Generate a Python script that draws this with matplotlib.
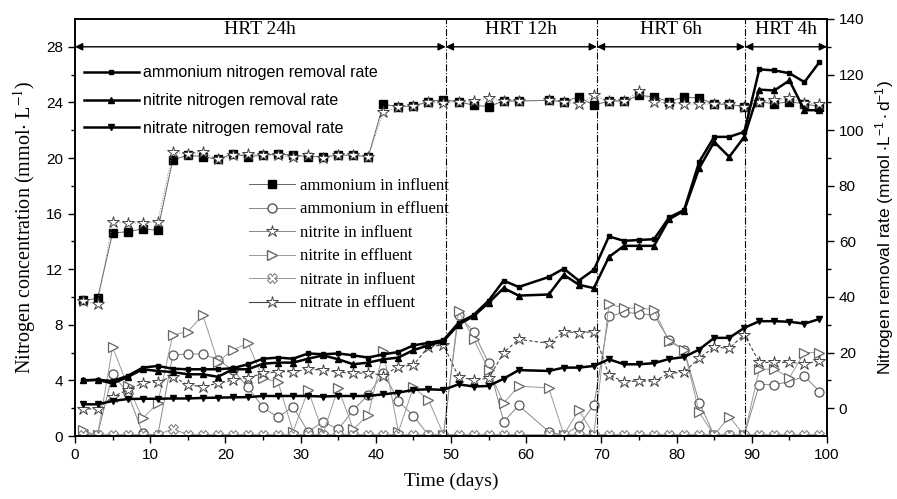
import numpy as np
import matplotlib
matplotlib.use("Agg")
import matplotlib.pyplot as plt
from matplotlib.lines import Line2D

nan = np.nan
days = list(range(1, 100, 2))

# concentrations (mmol/L), left axis
amm_in = [9.75, 9.9, 14.6, 14.7, 14.9, 14.8,
          19.86, 20.2, 20.1, 19.9, 20.3, 20.1, 20.2, 20.3, 20.2, 20.1, 20.1, 20.2, 20.2, 20.1,
          23.86, 23.7, 23.75, 24.05, 24.2,
          24.05, 23.8, 23.7, 24.1, 24.1, nan, 24.15, 24.05, 24.4, 23.8,
          24.1, 24.1, 24.5, 24.4, 24.05, 24.4, 24.3, 23.9, 23.85, 23.7,
          24.05, 23.9, 24.05, 23.9, 23.7]
nit_in = [9.7, 9.5, 15.4, 15.3, 15.35, 15.4,
          20.4, 20.3, 20.4, 19.9, 20.2, 20.3, 20.2, 20.2, 20.1, 20.2, 20.0, 20.2, 20.2, 20.1,
          23.3, 23.65, 23.75, 24.0, 23.95,
          24.05, 24.1, 24.3, 24.1, 24.1, nan, 24.15, 24.0, 23.9, 24.5,
          24.1, 24.1, 24.8, 24.05, 23.9, 23.9, 23.85, 23.9, 23.85, 23.7,
          24.0, 24.2, 24.3, 23.95, 23.9]
amm_eff = [0.2, 0.1, 4.46, 3.1, 0.2, 0.05, 5.83, 5.9, 5.9, 5.5, 4.75, 3.5,
           2.06, 1.34, 2.11, 0.31, 1.03, 0.48, 1.87, 2.95, 4.56, 2.52, 1.44, 0.07, 0.1,
           8.7, 7.5, 5.23, 1.03, 2.2, nan, 0.31, 0.05, 0.75, 2.23,
           8.6, 8.9, 8.8, 8.7, 6.9, 6.2, 2.4, 0.05, 0.05, 0.05,
           3.7, 3.7, 3.9, 4.3, 3.2]
nit_eff = [0.4, 0.05, 6.4, 3.6, 1.27, 2.35, 7.27, 7.5, 8.7, 5.35, 6.19, 6.67,
           4.15, 3.9, 0.3, 3.3, 0.2, 3.45, 0.5, 1.5, 6.1, 0.3, 3.5, 2.6, 0.1,
           9.0, 7.0, 4.75, 2.37, 3.6, nan, 3.45, 0.1, 1.85, 0.1,
           9.5, 9.2, 9.2, 9.1, 6.8, 6.2, 1.7, 0.05, 1.4, 0.05,
           4.8, 4.8, 4.2, 6.0, 6.0]
no3_in = [0.1] * 6 + [0.5] + [0.1] * 23 + [nan] + [0.1] * 19
no3_eff = [1.95, 1.95, 2.83, 3.31, 3.8, 3.9, 4.27, 3.67, 3.55, 3.79, 4.03, 4.2,
           4.5, 4.63, 4.63, 4.8, 4.75, 4.6, 4.5, 4.55, 4.35, 5.0, 5.1, 6.43, 6.55,
           4.27, 4.03, 4.15, 6.0, 6.95, nan, 6.67, 7.5, 7.43, 7.5,
           4.39, 3.9, 3.95, 3.95, 4.5, 4.6, 5.6, 6.4, 6.3, 7.3,
           5.3, 5.3, 5.3, 5.2, 5.4]

# removal rates (mmol/L/d), right axis
amm_rate = [10.0, 10.2, 9.8, 11.6, 14.6, 15.2, 14.2, 14.0, 14.0, 14.0, 14.4, 15.8,
            17.8, 18.2, 17.8, 19.7, 19.4, 19.7, 19.0, 18.2, 19.4, 20.2, 22.6, 23.5, 24.5,
            30.7, 33.5, 38.7, 45.9, 43.6, nan, 47.2, 50.2, 45.9, 49.8,
            61.8, 60.2, 60.5, 60.8, 68.6, 71.3, 88.6, 97.6, 97.6, 99.4,
            121.9, 121.5, 120.5, 117.3, 124.5]
nit_rate = [10.0, 10.2, 8.9, 11.2, 14.0, 13.4, 13.0, 12.2, 12.2, 11.3, 14.0, 14.0,
            16.0, 16.4, 16.4, 17.8, 19.0, 17.6, 15.8, 16.4, 17.6, 18.2, 20.9, 22.6, 24.1,
            30.1, 33.1, 37.9, 43.2, 40.5, nan, 40.9, 48.0, 44.4, 43.2,
            54.4, 58.4, 58.4, 58.4, 68.0, 71.0, 86.3, 95.8, 90.4, 97.6,
            114.6, 114.3, 117.9, 107.2, 107.2]
no3_rate = [1.4, 1.4, 2.6, 3.3, 3.4, 3.4, 3.5, 3.5, 3.7, 3.8, 3.9, 4.0,
            4.4, 4.4, 4.4, 4.4, 4.2, 4.4, 4.4, 4.4, 5.0, 5.6, 6.6, 6.8, 6.6,
            8.6, 7.8, 8.0, 10.6, 13.7, nan, 13.4, 14.6, 14.6, 15.2,
            17.6, 15.8, 15.8, 16.2, 17.7, 18.4, 21.1, 25.3, 25.3, 28.9,
            31.3, 31.3, 31.1, 30.4, 32.1]

hrt_bounds = [0, 49.3, 69.4, 89.1, 100]
hrt_labels = ["HRT 24h", "HRT 12h", "HRT 6h", "HRT 4h"]

serif = "Liberation Serif"
sans = "Liberation Sans"
plt.rcParams["font.family"] = sans
plt.rcParams["mathtext.fontset"] = "stix"


def valid(y):
    # skip missing samples so the line joins the neighbours
    x = np.array(days, dtype=float)
    y = np.array(y, dtype=float)
    ok = ~np.isnan(y)
    return x[ok], y[ok]


fig = plt.figure(figsize=(8.97, 4.99), dpi=100)
ax = fig.add_axes([75 / 897, 1 - 436 / 499, 752 / 897, 417 / 499])
ax2 = ax.twinx()

# concentration series
ax.plot(*valid(amm_in), color="#666666", lw=0.7, marker="s", ms=5.5, mfc="black", mec="black", zorder=4)
ax.plot(*valid(amm_eff), color="#888888", lw=0.7, marker="o", ms=6.5, mfc="white", mec="#555555", mew=0.9)
ax.plot(*valid(nit_in), color="#888888", lw=0.7, ls=":", marker="*", ms=9, mfc="white", mec="#444444", mew=0.7, zorder=4)
ax.plot(*valid(nit_eff), color="#999999", lw=0.7, marker=">", ms=7, mfc="white", mec="#666666", mew=0.9)
ax.plot(*valid(no3_in), color="#999999", lw=0.7, marker="X", ms=6.5, mfc="white", mec="#777777", mew=0.7)
ax.plot(*valid(no3_eff), color="#444444", lw=0.8, ls=(0, (3, 2)), marker="*", ms=9, mfc="white", mec="#444444", mew=0.7)

# removal rates
ax2.plot(*valid(amm_rate), color="black", lw=1.8, marker="s", ms=3.2)
ax2.plot(*valid(nit_rate), color="black", lw=1.8, marker="^", ms=3.8)
ax2.plot(*valid(no3_rate), color="black", lw=1.8, marker="v", ms=3.8)

ax.set_xlim(0, 100)
ax.set_ylim(0, 30)
ax2.set_ylim(-10, 140)
ax.set_xticks(range(0, 101, 10))
ax.set_xticks(range(5, 100, 10), minor=True)
ax.set_yticks(range(0, 29, 4))
ax.set_yticks(range(2, 30, 4), minor=True)
ax2.set_yticks(range(0, 141, 20))
ax2.set_yticks(range(10, 140, 20), minor=True)
for a in (ax, ax2):
    a.tick_params(which="major", length=5, width=1, labelsize=11)
    a.tick_params(which="minor", length=3, width=1)
    for s in a.spines.values():
        s.set_linewidth(1.2)
ax.tick_params(top=False, right=False)

# HRT stages
for i in range(len(hrt_labels)):
    x0, x1 = hrt_bounds[i], hrt_bounds[i + 1]
    ax.annotate("", xy=(x0, 28), xytext=(x1, 28),
                arrowprops=dict(arrowstyle="<|-|>", color="black", lw=1.0,
                                mutation_scale=11, shrinkA=0, shrinkB=0))
    ax.text((x0 + x1) / 2, 29.25, hrt_labels[i], ha="center", va="center",
            fontsize=14, family=serif)
for xb in hrt_bounds[1:-1]:
    ax.axvline(xb, color="black", lw=0.8, ls="-.")

ax.set_xlabel("Time (days)", family=serif, fontsize=14, labelpad=8)
ax.set_ylabel("Nitrogen concentration (mmol$\\cdot$ L$^{-1}$)", family=serif, fontsize=14.5, labelpad=6)
ax2.set_ylabel("Nitrogen removal rate (mmol $\\mathregular{\\cdot L^{-1}\\cdot d^{-1}}$)",
               family=sans, fontsize=12.5, labelpad=6)

rate_handles = [
    Line2D([], [], color="black", lw=1.8, marker="s", ms=3.2),
    Line2D([], [], color="black", lw=1.8, marker="^", ms=3.8),
    Line2D([], [], color="black", lw=1.8, marker="v", ms=3.8),
]
rate_labels = ["ammonium nitrogen removal rate", "nitrite nitrogen removal rate",
               "nitrate nitrogen removal rate"]
leg1 = ax2.legend(rate_handles, rate_labels, loc="upper left", bbox_to_anchor=(0.085, 0.885),
                  bbox_transform=fig.transFigure, frameon=False, fontsize=11.5,
                  labelspacing=0.8, handlelength=3.4, handletextpad=0.3, borderpad=0)
ax2.add_artist(leg1)

conc_handles = [
    Line2D([], [], color="#666666", lw=0.7, marker="s", ms=5.5, mfc="black", mec="black"),
    Line2D([], [], color="#888888", lw=0.7, marker="o", ms=6.5, mfc="white", mec="#555555"),
    Line2D([], [], color="#888888", lw=0.7, marker="*", ms=9, mfc="white", mec="#444444", mew=0.7),
    Line2D([], [], color="#999999", lw=0.7, marker=">", ms=7, mfc="white", mec="#666666"),
    Line2D([], [], color="#999999", lw=0.7, marker="X", ms=6.5, mfc="white", mec="#777777", mew=0.7),
    Line2D([], [], color="#444444", lw=0.8, marker="*", ms=9, mfc="white", mec="#444444", mew=0.7),
]
conc_labels = ["ammonium in influent", "ammonium in effluent", "nitrite in influent",
               "nitrite in effluent", "nitrate in influent", "nitrate in effluent"]
ax2.legend(conc_handles, conc_labels, loc="upper left", bbox_to_anchor=(0.268, 0.66),
           bbox_transform=fig.transFigure, frameon=False, prop={"family": serif, "size": 12},
           labelspacing=0.45, handlelength=2.8, handletextpad=0.3, borderpad=0)

fig.savefig("out.png", dpi=100)
